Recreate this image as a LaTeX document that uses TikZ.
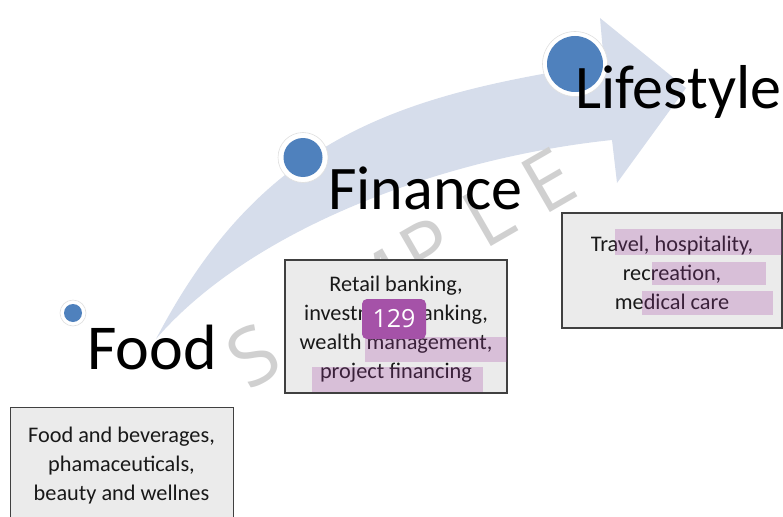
\documentclass[tikz,border=0pt]{standalone}
\usepackage{fontspec}
\setmainfont{Carlito}
\newfontfamily\badgefont{Open Sans}
\newfontfamily\wmfont{Open Sans}
\definecolor{arrowfill}{RGB}{214,221,235}
\definecolor{dotblue}{RGB}{79,129,189}
\definecolor{boxfill}{RGB}{235,235,235}
\definecolor{boxline}{RGB}{64,64,64}
\definecolor{hl}{RGB}{160,60,160}
\definecolor{badgecol}{RGB}{165,82,168}
\definecolor{wm}{RGB}{208,208,208}
\begin{document}
\begin{tikzpicture}[x=1pt,y=-1pt,
  bigtext/.style={inner sep=0pt, anchor=base west, font=\fontsize{62}{62}\selectfont, text=black},
  infobox/.style={draw=boxline, line width=1.3pt, fill=boxfill, inner sep=0pt},
  infotext/.style={align=center, font=\fontsize{22.3}{29}\selectfont, text=black!90, inner sep=0pt},
  hlbox/.style={fill=hl, fill opacity=0.25, draw=none},
  ring/.style={circle, fill=white, draw=gray!25, line width=0.6pt, inner sep=0pt},
  dot/.style={circle, fill=dotblue, inner sep=0pt},
  wmletter/.style={font=\wmfont\fontsize{80}{80}\selectfont, text=wm, rotate=30, inner sep=0pt}
]
\useasboundingbox (0,0) rectangle (783,516);
\clip (0,0) rectangle (783,516);
% curved arrow
\fill[arrowfill] (156,339) .. controls (259,142) and (390,95.5) .. (604,64)
  -- (600,18) -- (686,88) -- (617,183) -- (612,140)
  .. controls (440,158) and (250,230) .. (156,339) -- cycle;
% watermark
\node[wmletter] (wmS) at (253,356) {S};
\node[wmletter] (wmA) at (312,322) {A};
\node[wmletter] (wmM) at (372,288) {M};
\node[wmletter] (wmP) at (428,250) {P};
\node[wmletter] (wmL) at (488,215) {L};
\node[wmletter] (wmE) at (548,181) {E};
% circles
\node[ring, minimum size=26] (foodring) at (73,313) {};
\node[dot, minimum size=18] (fooddot) at (73,313) {};
\node[ring, minimum size=50] (finring) at (303,157.5) {};
\node[dot, minimum size=39] (findot) at (303,157.5) {};
\node[ring, minimum size=65] (lifering) at (575,64) {};
\node[dot, minimum size=56] (lifedot) at (575,64) {};
% big labels
\node[bigtext, font=\fontsize{64}{64}\selectfont] (foodlbl) at (87,369) {Food};
\node[bigtext] (finlbl) at (328,209) {Finance};
\node[bigtext] (lifelbl) at (575,108) {Lifestyle};
% boxes
\node[infobox, anchor=north west, minimum width=223, minimum height=140] (foodbox) at (10,407) {};
\node[infotext] (foodtxt) at (121.5,466) {Food and beverages,\\ phamaceuticals,\\ beauty and wellnes};
\node[infobox, minimum width=222, minimum height=133] (finbox) at (396,326.5) {};
\node[infotext] (fintxt) at (396,329) {Retail banking,\\ investment banking,\\ wealth management,\\ project financing};
\node[infobox, minimum width=220, minimum height=115] (lifebox) at (672,270.5) {};
\node[infotext] (lifetxt) at (672,273) {Travel, hospitality,\\ recreation,\\ medical care};
% highlights
\fill[hlbox] (615,229) rectangle (782,255);
\fill[hlbox] (652,262) rectangle (766,285);
\fill[hlbox] (642,291) rectangle (773,315);
\fill[hlbox] (365,337) rectangle (507,362);
\fill[hlbox] (312,367) rectangle (483,392);
% badge
\node[fill=badgecol, rounded corners=5pt, minimum width=64, minimum height=40, text=white, font=\badgefont\fontsize{25}{25}\selectfont, inner sep=0pt] (badge) at (394,319) {129};
\end{tikzpicture}
\end{document}
